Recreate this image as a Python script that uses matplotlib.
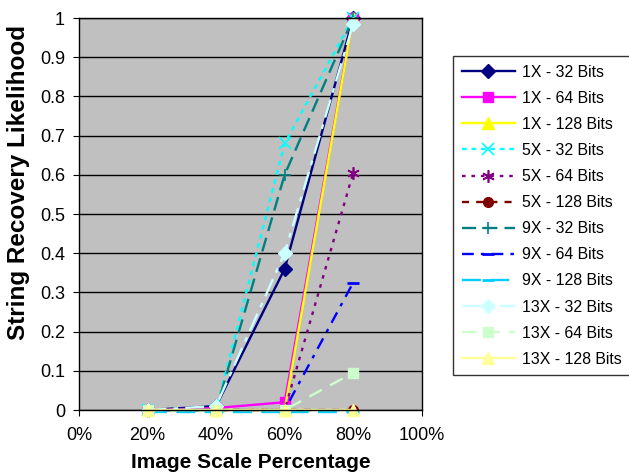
import matplotlib
matplotlib.use('Agg')
import matplotlib.pyplot as plt
import matplotlib.ticker as mticker

plt.rcParams['font.family'] = ['Liberation Sans', 'DejaVu Sans']

# image scale (fraction)
scales = [0.2, 0.4, 0.6, 0.8]

labels = ['1X - 32 Bits', '1X - 64 Bits', '1X - 128 Bits',
          '5X - 32 Bits', '5X - 64 Bits', '5X - 128 Bits',
          '9X - 32 Bits', '9X - 64 Bits', '9X - 128 Bits',
          '13X - 32 Bits', '13X - 64 Bits', '13X - 128 Bits']

x1_32 = [0.0, 0.01, 0.36, 1.0]
x1_64 = [0.0, 0.005, 0.02, 1.0]
x1_128 = [0.0, 0.0, 0.0, 1.0]
x5_32 = [0.0, 0.0, 0.68, 1.0]
x5_64 = [0.0, 0.0, 0.0, 0.605]
x5_128 = [0.0, 0.0, 0.0, 0.0]
x9_32 = [0.0, 0.0, 0.6, 1.0]
x9_64 = [0.0, 0.0, 0.0, 0.325]
x9_128 = [-0.004, -0.004, -0.004, -0.004]
x13_32 = [0.0, 0.01, 0.4, 0.985]
x13_64 = [0.0, 0.0, 0.0, 0.095]
x13_128 = [0.0, 0.0, 0.0, 0.0]

series = [x1_32, x1_64, x1_128, x5_32, x5_64, x5_128,
          x9_32, x9_64, x9_128, x13_32, x13_64, x13_128]

styles = [
    dict(color='#000080', ls='-', marker='D', ms=7),
    dict(color='#FF00FF', ls='-', marker='s', ms=7),
    dict(color='#FFFF00', ls='-', marker='^', ms=8),
    dict(color='#00FFFF', ls=(0, (2, 2)), marker='x', ms=9, mew=1.2),
    dict(color='#800080', ls=(0, (1.5, 2.5)), marker=(6, 2, 0), ms=9, mew=1.2),
    dict(color='#800000', ls=(0, (3, 3)), marker='o', ms=7),
    dict(color='#008080', ls=(0, (6, 3)), marker='+', ms=9, mew=1.2),
    dict(color='#0000FF', ls=(0, (5, 3, 1.5, 3)), marker='_', ms=8, mew=2),
    dict(color='#00CCFF', ls=(0, (8, 4)), marker='_', ms=8, mew=2),
    dict(color='#CCFFFF', ls=(0, (8, 3, 2, 3)), marker='D', ms=7),
    dict(color='#CCFFCC', ls=(0, (6, 4)), marker='s', ms=7),
    dict(color='#FFFF99', ls='-', marker='^', ms=8),
]

fig = plt.figure(figsize=(6.29, 4.75), dpi=100)
ax = fig.add_axes([0.1256, 0.1368, 0.5448, 0.8252])
ax.set_facecolor('#C0C0C0')

for vals, lab, st in zip(series, labels, styles):
    ax.plot(scales, vals, label=lab, color=st['color'], linestyle=st['ls'],
            marker=st['marker'], markersize=st['ms'], linewidth=1.7,
            markeredgewidth=st.get('mew', 1.0), clip_on=False)

ax.set_xlim(0, 1)
ax.set_ylim(0, 1)
ax.set_xticks([0, 0.2, 0.4, 0.6, 0.8, 1.0])
ax.xaxis.set_major_formatter(mticker.FuncFormatter(lambda v, p: f'{v*100:.0f}%'))
ax.set_yticks([i / 10 for i in range(11)])
ax.yaxis.set_major_formatter(mticker.FuncFormatter(lambda v, p: '0' if v == 0 else ('1' if v == 1 else f'{v:.1f}')))
ax.tick_params(axis='both', labelsize=13, direction='out', length=4, color='black')
ax.tick_params(axis='x', pad=8)
ax.tick_params(axis='y', pad=6)
ax.grid(axis='y', color='black', linewidth=1)
ax.set_axisbelow(True)
for s in ax.spines.values():
    s.set_color('black')
    s.set_linewidth(1)

ax.set_xlabel('Image Scale Percentage', fontsize=15, fontweight='bold')
ax.xaxis.set_label_coords(0.5, -0.135)
ax.xaxis.label.set_va('center')
ax.set_ylabel('String Recovery Likelihood', fontsize=17.5, fontweight='bold')
ax.yaxis.set_label_coords(-0.178, 0.58)
ax.yaxis.label.set_va('center')

leg = fig.legend(loc='upper left', bbox_to_anchor=(0.72, 0.882), fontsize=11.4,
                 frameon=True, fancybox=False, edgecolor='black',
                 labelspacing=0.7, handlelength=3.35, handletextpad=0.45,
                 borderpad=0.55, borderaxespad=0)
leg.get_frame().set_linewidth(1)

fig.savefig('out.png', dpi=100, facecolor='white')
